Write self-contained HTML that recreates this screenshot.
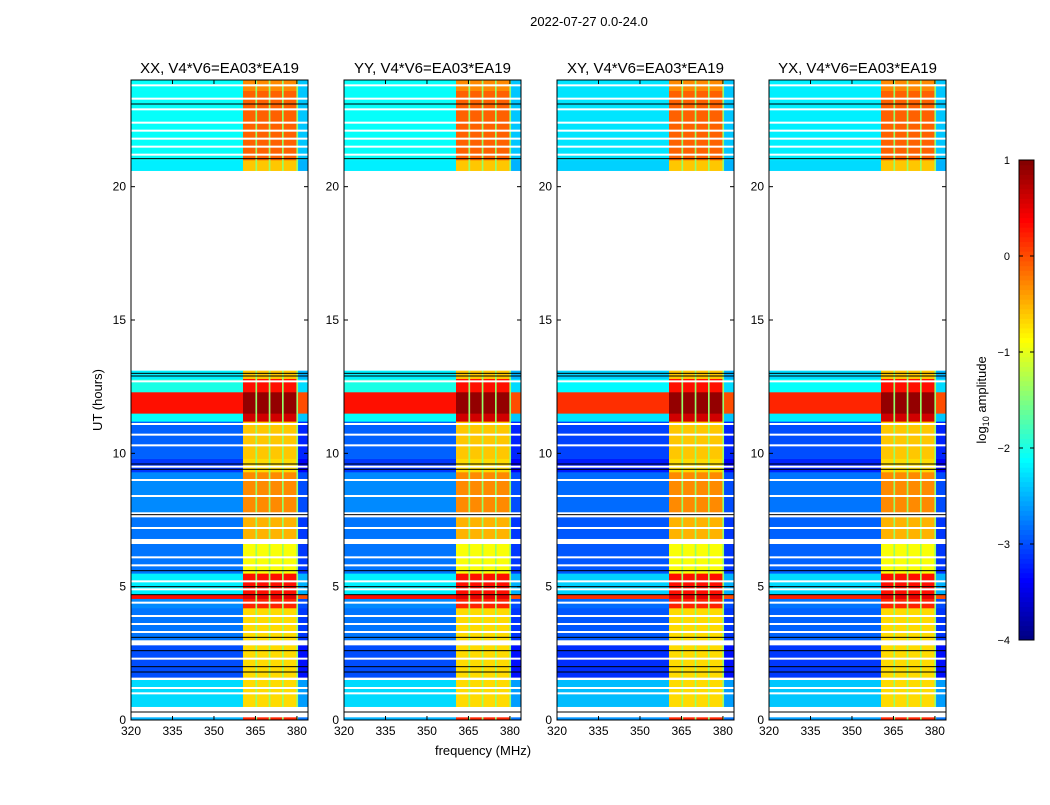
<!DOCTYPE html>
<html><head><meta charset="utf-8"><style>
body{margin:0;background:#fff}
svg text{font-family:"Liberation Sans",sans-serif;fill:#000}
</style></head><body>
<svg id="fig" width="1050" height="800" viewBox="0 0 1050 800" xmlns="http://www.w3.org/2000/svg">
<text x="589" y="26" font-size="13" text-anchor="middle">2022-07-27 0.0-24.0</text>
<text transform="translate(102,400) rotate(-90)" font-size="13" text-anchor="middle">UT (hours)</text>
<text x="483" y="755" font-size="13" text-anchor="middle">frequency (MHz)</text>
<g id="panels"></g>
<g id="cbar"></g>
<text transform="translate(986,400) rotate(-90)" font-size="13" text-anchor="middle">log<tspan font-size="9" dy="3">10</tspan><tspan dy="-3"> amplitude</tspan></text>
</svg>
<script>
const panelTitles=["XX, V4*V6=EA03*EA19","YY, V4*V6=EA03*EA19","XY, V4*V6=EA03*EA19","YX, V4*V6=EA03*EA19"];
const panelLefts=[131,344,557,769];
const xTicks=[320,335,350,365,380];
const yTicks=[0,5,10,15,20];
const cbTicks=[1,0,-1,-2,-3,-4];
const segStart=[0,0.1,0.5,1.5,1.6,2.8,3.0,4.2,4.55,4.7,5.5,6.6,6.8,7.6,7.8,9.3,9.8,11.2,11.5,12.3,12.8,13.1,20.6,21.0,22.5,23.6];
const segEnd=[0.1,0.5,1.5,1.6,2.8,3.0,4.2,4.55,4.7,5.5,6.6,6.8,7.6,7.8,9.3,9.8,11.2,11.5,12.3,12.8,13.1,20.6,21.0,22.5,23.6,24];
const segBg=[-2.5,null,-2.3,null,-3.0,null,-2.8,-2.7,0.3,-2.2,-2.8,null,-2.8,null,-2.7,-3.1,-2.9,-2.1,0.3,-2.0,-2.2,null,-2.2,-2.1,-2.1,-2.1];
const segBand=[0.2,null,-0.7,null,-0.7,null,-0.7,0.2,0.5,0.3,-0.9,null,-0.5,null,-0.3,-0.7,-0.6,0.6,0.9,0.3,-0.6,null,-0.6,-0.1,-0.1,-0.3];
const whiteLines=[1.2,1.0,2.3,3.3,3.6,3.9,4.4,4.9,5.2,5.8,6.1,7.2,8.4,9.0,9.5,10.3,10.7,11.1,12.7,21.2,21.5,21.8,22.1,22.4,22.9,23.3,23.8];
const darkLines=[0.3,1.8,2.0,2.6,3.1,4.7,5.0,5.6,7.7,9.4,9.6,12.9,13.0,21.05,23.1];
const fStart=[320,360.5,365,365.6,369.8,370.4,374.6,375.2,379.8,380.4];
const fEnd=[360.5,365,365.6,369.8,370.4,374.6,375.2,379.8,380.4,384];
const fType=[0,1,2,1,2,1,2,1,2,3];
const NS="http://www.w3.org/2000/svg";
const plotTop=80,plotBot=720,pw=177;
function ys(h){return plotBot-(h/24)*(plotBot-plotTop);}
function xs(L,f){return L+(f-320)/(384-320)*pw;}
function jet(v){let t=(v+4)/5;t=Math.max(0,Math.min(1,t));
 const r=Math.max(0,Math.min(1,1.5-Math.abs(4*t-3))),g=Math.max(0,Math.min(1,1.5-Math.abs(4*t-2))),b=Math.max(0,Math.min(1,1.5-Math.abs(4*t-1)));
 return `rgb(${Math.round(r*255)},${Math.round(g*255)},${Math.round(b*255)})`;}
function mk(tag,attrs,parent){const e=document.createElementNS(NS,tag);for(const k in attrs)e.setAttribute(k,attrs[k]);parent.appendChild(e);return e;}
const P=document.getElementById('panels');
panelLefts.forEach((L,pi)=>{
 const g=mk('g',{},P);
 
 
 const off=[0,0,-0.15,-0.1][pi];
 for(let s=0;s<segStart.length;s++){
  if(segBg[s]===null)continue;
  for(let f=0;f<fStart.length;f++){
   let v;const t=fType[f];
   if(t===0)v=segBg[s]+off;else if(t===1)v=segBand[s];else if(t===2)v=Math.min(segBand[s],-1.4);else v=segBg[s]-0.3;
   const r=mk('rect',{x:xs(L,fStart[f]),y:ys(segEnd[s]),width:xs(L,fEnd[f])-xs(L,fStart[f])+0.3,height:ys(segStart[s])-ys(segEnd[s])+0.3,fill:jet(v)},g);
   
   
  }
 }
 whiteLines.forEach(h=>{const l=mk('rect',{x:L,y:ys(h)-1,width:pw,height:2,fill:'#fff'},g);
  
  });
 darkLines.forEach(h=>{const l=mk('rect',{x:L,y:ys(h)-0.5,width:pw,height:1,fill:'#000'},g);
  
  });
 const fr=mk('rect',{x:L,y:plotTop,width:pw,height:plotBot-plotTop,fill:'none',stroke:'#000','stroke-width':1},g);
 
 
 const tt=mk('text',{x:L+pw/2,y:73,'font-size':15,'text-anchor':'middle'},g);tt.textContent=panelTitles[pi];
 
 
 xTicks.forEach(f=>{const x=xs(L,f);
  mk('line',{x1:x,x2:x,y1:plotBot,y2:plotBot-4,stroke:'#000'},g);mk('line',{x1:x,x2:x,y1:plotTop,y2:plotTop+4,stroke:'#000'},g);
  const t=mk('text',{x:x,y:plotBot+15,'font-size':12,'text-anchor':'middle'},g);t.textContent=f;
  
  });
 yTicks.forEach(h=>{const y=ys(h);
  mk('line',{x1:L,x2:L+4,y1:y,y2:y,stroke:'#000'},g);mk('line',{x1:L+pw,x2:L+pw-4,y1:y,y2:y,stroke:'#000'},g);
  const t=mk('text',{x:L-5,y:y+4,'font-size':12,'text-anchor':'end'},g);t.textContent=h;
  
  });
});
const C=document.getElementById('cbar');
const cx=1019,cw=15,ct=160,cb=640;
for(let i=0;i<100;i++){const v=-4+5*(i+0.5)/100;const y=cb-(i+1)*(cb-ct)/100;
 const r=mk('rect',{x:cx,y:y,width:cw,height:(cb-ct)/100+0.5,fill:jet(v)},C);
 
 }
mk('rect',{x:cx,y:ct,width:cw,height:cb-ct,fill:'none',stroke:'#000'},C);
cbTicks.forEach(v=>{const y=cb-(v+4)/5*(cb-ct);
 mk('line',{x1:cx,x2:cx+4,y1:y,y2:y,stroke:'#000'},C);mk('line',{x1:cx+cw,x2:cx+cw-4,y1:y,y2:y,stroke:'#000'},C);
 const t=mk('text',{x:1010,y:y+4,'font-size':11,'text-anchor':'end'},C);t.textContent=v<0?'\u2212'+(-v):v;
 
 });
</script>
</body></html>
